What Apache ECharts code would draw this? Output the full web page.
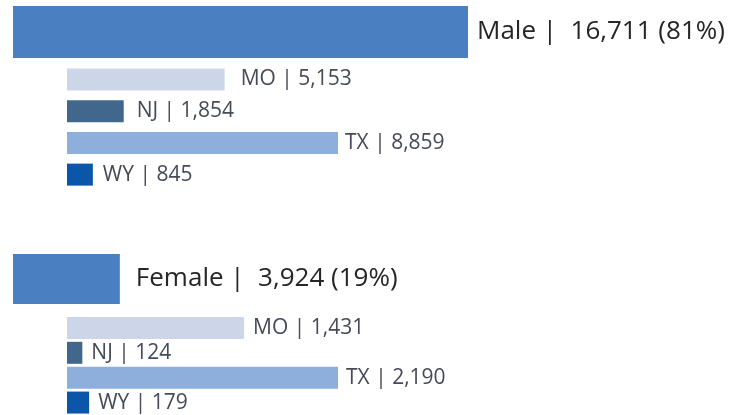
<!DOCTYPE html>
<html>
<head>
<meta charset="utf-8">
<script src="https://cdn.jsdelivr.net/npm/echarts@6/dist/echarts.min.js"></script>
<style>
  html, body { margin: 0; padding: 0; background: #fff; }
  #main { width: 738px; height: 415px; }
</style>
</head>
<body>
<div id="main"></div>
<script>
// totals by gender
var genders = ['Male', 'Female'];
var genderTotals = [16711, 3924];
// breakdown by state
var states = ['MO', 'NJ', 'TX', 'WY'];
var maleByState = [5153, 1854, 8859, 845];
var femaleByState = [1431, 124, 2190, 179];

var stateColors = ['#cdd6e9', '#41678c', '#8eafdb', '#0b56a8'];
var font = 'Open Sans';
// gap between bar end and its label (px), per block
var totalGap = [9, 16];
var stateGap = [[16, 13, 7, 10], [9, 9, 8, 9]];

function fmt(n) {
  return n.toLocaleString('en-US');
}

var grandTotal = genderTotals[0] + genderTotals[1];
var totalMax = Math.max.apply(null, genderTotals);

// grid layout: [gender total, its states] for each gender
var grids = [
  { left: 13, top: 6, width: 455, height: 52 },
  { left: 67, top: 63.5, width: 271, height: 127 },
  { left: 13, top: 254, width: 455, height: 50 },
  { left: 67, top: 315.5, width: 271, height: 100 }
];

var xAxes = [], yAxes = [], series = [];
grids.forEach(function (g, i) {
  var isTotal = i % 2 === 0;
  var gi = Math.floor(i / 2);
  xAxes.push({
    gridIndex: i, type: 'value', min: 0,
    max: isTotal ? totalMax : 'dataMax',
    show: false
  });
  yAxes.push({
    gridIndex: i, type: 'category', inverse: true, show: false,
    data: isTotal ? [genders[gi]] : states
  });
  if (isTotal) {
    var v = genderTotals[gi];
    series.push({
      type: 'bar', xAxisIndex: i, yAxisIndex: i,
      data: [v],
      barCategoryGap: 0,
      itemStyle: { color: '#4a7fc1' },
      label: {
        show: true, position: 'right', distance: totalGap[gi],
        fontFamily: font, fontSize: 26, color: '#262626',
        formatter: genders[gi] + ' |  ' + fmt(v) + ' (' + Math.round(v / grandTotal * 100) + '%)'
      },
      silent: true, animation: false
    });
  } else {
    var vals = gi === 0 ? maleByState : femaleByState;
    series.push({
      type: 'bar', xAxisIndex: i, yAxisIndex: i,
      barWidth: 22,
      data: vals.map(function (d, k) {
        return {
          value: d,
          itemStyle: { color: stateColors[k] },
          label: { distance: stateGap[gi][k] }
        };
      }),
      label: {
        show: true, position: 'right',
        fontFamily: font, fontSize: 21, color: '#474a57',
        formatter: function (p) { return p.name + ' | ' + fmt(p.value); }
      },
      silent: true, animation: false
    });
  }
});

var myChart = echarts.init(document.getElementById('main'));
myChart.setOption({
  animation: false,
  grid: grids,
  xAxis: xAxes,
  yAxis: yAxes,
  series: series
});
</script>
</body>
</html>
